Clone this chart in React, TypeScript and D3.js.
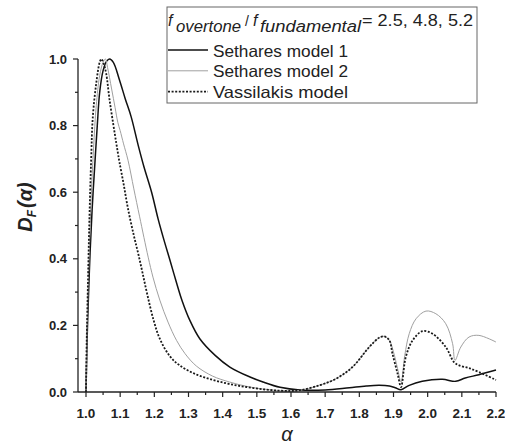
import React from "react";
import * as d3 from "d3";

const xTicks = [1.0, 1.1, 1.2, 1.3, 1.4, 1.5, 1.6, 1.7, 1.8, 1.9, 2.0, 2.1, 2.2];
const yTicks = [0.0, 0.2, 0.4, 0.6, 0.8, 1.0];

const seth1Alpha = [1.0, 1.003, 1.007, 1.012, 1.018, 1.025, 1.033, 1.04, 1.05, 1.06, 1.069, 1.08, 1.098, 1.115, 1.132, 1.153, 1.17, 1.192, 1.211, 1.23, 1.246, 1.263, 1.281, 1.304, 1.333, 1.378, 1.421, 1.48, 1.518, 1.568, 1.626, 1.7, 1.771, 1.82, 1.858, 1.888, 1.905, 1.922, 1.946, 1.984, 2.043, 2.082, 2.11, 2.15, 2.2];
const seth1D = [0, 0.15, 0.28, 0.42, 0.55, 0.67, 0.8, 0.9, 0.965, 0.993, 1.0, 0.99, 0.937, 0.88, 0.827, 0.74, 0.675, 0.6, 0.52, 0.45, 0.395, 0.335, 0.275, 0.215, 0.16, 0.11, 0.075, 0.045, 0.03, 0.014, 0.006, 0.006, 0.013, 0.018, 0.02, 0.018, 0.013, 0.007, 0.02, 0.032, 0.038, 0.032, 0.042, 0.052, 0.066];

const seth2Alpha = [1.0, 1.004, 1.009, 1.015, 1.022, 1.03, 1.04, 1.05, 1.057, 1.063, 1.075, 1.085, 1.093, 1.1, 1.11, 1.123, 1.14, 1.157, 1.182, 1.196, 1.216, 1.24, 1.265, 1.29, 1.323, 1.37, 1.42, 1.47, 1.517, 1.57, 1.62, 1.683, 1.732, 1.78, 1.829, 1.858, 1.873, 1.888, 1.9, 1.912, 1.922, 1.933, 1.946, 1.966, 1.995, 2.024, 2.053, 2.073, 2.08, 2.097, 2.121, 2.15, 2.2];
const seth2D = [0, 0.22, 0.4, 0.58, 0.73, 0.86, 0.95, 0.99, 1.0, 0.975, 0.91, 0.855, 0.81, 0.785, 0.745, 0.696, 0.61, 0.526, 0.405, 0.345, 0.276, 0.21, 0.155, 0.115, 0.078, 0.048, 0.03, 0.017, 0.009, 0.004, 0.004, 0.02, 0.04, 0.075, 0.135, 0.163, 0.167, 0.155, 0.12, 0.07, 0.03, 0.11, 0.175, 0.22, 0.243, 0.235, 0.205, 0.145, 0.095, 0.135, 0.165, 0.17, 0.15];

const vassAlpha = [1.0, 1.002, 1.006, 1.01, 1.015, 1.02, 1.03, 1.04, 1.045, 1.052, 1.059, 1.069, 1.084, 1.093, 1.098, 1.11, 1.123, 1.14, 1.153, 1.165, 1.18, 1.198, 1.216, 1.245, 1.274, 1.32, 1.372, 1.42, 1.469, 1.52, 1.566, 1.6, 1.625, 1.683, 1.732, 1.78, 1.829, 1.858, 1.873, 1.888, 1.897, 1.912, 1.922, 1.936, 1.956, 1.985, 2.014, 2.053, 2.077, 2.092, 2.12, 2.15, 2.2];
const vassD = [0, 0.15, 0.34, 0.52, 0.696, 0.827, 0.927, 0.99, 1.0, 0.985, 0.957, 0.877, 0.777, 0.72, 0.69, 0.625, 0.55, 0.47, 0.415, 0.36, 0.29, 0.215, 0.16, 0.108, 0.08, 0.054, 0.036, 0.024, 0.015, 0.008, 0.004, 0.003, 0.005, 0.02, 0.04, 0.075, 0.135, 0.163, 0.167, 0.155, 0.115, 0.055, 0.015, 0.105, 0.155, 0.183, 0.175, 0.135, 0.09, 0.08, 0.072, 0.06, 0.036];

const legendLabels = ["Sethares model 1", "Sethares model 2", "Vassilakis model"];

const FONT = "'Liberation Sans', Arial, sans-serif";

export default function App() {
  const W = 505, H = 445;
  const x = d3.scaleLinear().domain([1.0, 2.2]).range([86, 496]);
  const y = d3.scaleLinear().domain([0, 1]).range([392, 59]);
  const x0 = 78;

  const mk = (a: number[], d: number[]) =>
    d3.line<number>()
      .x((_, i) => x(a[i]))
      .y((_, i) => y(d[i]))
      .curve(d3.curveCatmullRom.alpha(0.5))(a) as string;

  const styles = [
    { stroke: "#111", width: 1.5, dash: undefined as string | undefined },
    { stroke: "#a0a0a0", width: 1, dash: undefined as string | undefined },
    { stroke: "#1a1a1a", width: 1.8, dash: "2,1.6" },
  ];
  const paths = [mk(seth1Alpha, seth1D), mk(seth2Alpha, seth2D), mk(vassAlpha, vassD)];

  const xMinor = d3.range(0, 25).map((i) => 1.0 + i * 0.05);
  const yMinor = d3.range(0, 11).map((i) => i * 0.1);

  return (
    <svg width={W} height={H} style={{ position: "absolute", left: 0, top: 0 }} fontFamily={FONT}>
      <rect width={W} height={H} fill="#fff" />
      {paths.map((p, i) => (
        <path key={i} d={p} fill="none" stroke={styles[i].stroke} strokeWidth={styles[i].width} strokeDasharray={styles[i].dash} />
      ))}
      <line x1={x0} x2={x(2.2)} y1={y(0)} y2={y(0)} stroke="#222" strokeWidth={1.3} />
      <line x1={x0} x2={x0} y1={y(0)} y2={y(1)} stroke="#222" strokeWidth={1.3} />
      {xMinor.map((v, i) => (
        <line key={"xm" + i} x1={x(v)} x2={x(v)} y1={y(0)} y2={y(0) + (i % 2 === 0 ? 5 : 3)} stroke="#222" strokeWidth={1.2} />
      ))}
      {yMinor.map((v, i) => (
        <line key={"ym" + i} x1={x0} x2={x0 - (i % 2 === 0 ? 5 : 3)} y1={y(v)} y2={y(v)} stroke="#222" strokeWidth={1.2} />
      ))}
      {xTicks.map((v) => (
        <text key={"xt" + v} x={x(v)} y={418} textAnchor="middle" fontSize={13.5} fontWeight="bold" fill="#222">
          {v.toFixed(1)}
        </text>
      ))}
      {yTicks.map((v) => (
        <text key={"yt" + v} x={67} y={y(v) + 4.5} textAnchor="end" fontSize={13} fontWeight="bold" fill="#222">
          {v.toFixed(1)}
        </text>
      ))}
      <text x={287} y={441} textAnchor="middle" fontSize={20} fontStyle="italic" fill="#222">α</text>
      <text transform="translate(32,207) rotate(-90)" textAnchor="middle" fontSize={20} fontWeight="bold" fontStyle="italic" fill="#222">
        <tspan>D</tspan>
        <tspan fontSize={12} dy={4}>F</tspan>
        <tspan dy={-4} dx={2}>(α)</tspan>
      </text>
      <rect x={167} y={7} width={310} height={96} fill="#fff" stroke="#666" strokeWidth={1} />
      <g fill="#222" fontStyle="italic" fontSize={16}>
        <text x={168} y={26}>f</text>
        <text x={176} y={32} textLength={65} lengthAdjust="spacingAndGlyphs">overtone</text>
        <text x={245} y={26} fontStyle="normal" fontSize={14}>/</text>
        <text x={253} y={26}>f</text>
        <text x={260} y={32} textLength={101} lengthAdjust="spacingAndGlyphs">fundamental</text>
      </g>
      <text x={362} y={26} fontSize={16} fill="#222" textLength={111} lengthAdjust="spacingAndGlyphs">= 2.5, 4.8, 5.2</text>
      {legendLabels.map((lab, i) => (
        <g key={lab}>
          <line x1={168} x2={208} y1={50 + i * 20.8} y2={50 + i * 20.8} stroke={styles[i].stroke} strokeWidth={styles[i].width} strokeDasharray={styles[i].dash} />
          <text x={213} y={56.5 + i * 20.5} fontSize={16.5} fill="#222" textLength={135} lengthAdjust="spacingAndGlyphs">{lab}</text>
        </g>
      ))}
    </svg>
  );
}
